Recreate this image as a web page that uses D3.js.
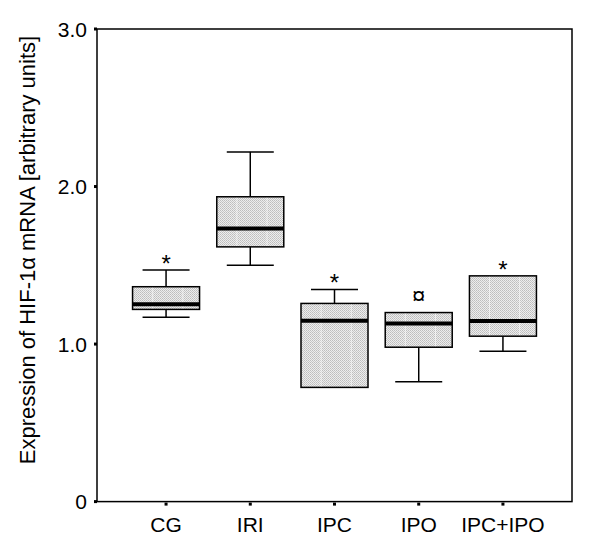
<!DOCTYPE html>
<html>
<head>
    <meta charset="utf-8">
    <style>
        body { margin: 0; background: #fff; }
        text { font-family: "Liberation Sans", Arial, sans-serif; fill: #000; }
        .frame { fill: none; stroke: #000; stroke-width: 1.5px; }
        .box { stroke: #000; stroke-width: 1.5px; }
        .whisker { stroke: #000; stroke-width: 1.5px; }
        .median { stroke: #000; stroke-width: 4px; }
    </style>
</head>
<body>
    <script src="https://d3js.org/d3.v7.min.js"></script>
    <script>
        var width = 600,
            height = 545;

        // groups and box statistics (arbitrary units)
        var groups = ["CG", "IRI", "IPC", "IPO", "IPC+IPO"];
        var lowerWhisker = [1.17, 1.50, 0.725, 0.76, 0.955];
        var q1 = [1.22, 1.617, 0.725, 0.98, 1.05];
        var median = [1.252, 1.734, 1.148, 1.13, 1.146];
        var q3 = [1.364, 1.935, 1.258, 1.20, 1.433];
        var upperWhisker = [1.47, 2.22, 1.347, 1.20, 1.433];
        var marks = ["*", "", "*", "\u00a4", "*"];

        var yTicks = [0, 1, 2, 3];
        var yTickLabels = ["0", "1.0", "2.0", "3.0"];

        var plotLeft = 97, plotRight = 572, plotTop = 29, plotBottom = 501.6;

        var x = d3.scalePoint()
            .domain(groups)
            .range([plotLeft, plotRight])
            .padding(0.82);

        var y = d3.scaleLinear()
            .domain([0, 3])
            .range([plotBottom, plotTop]);

        var svg = d3.select("body").append("svg")
            .attr("width", width)
            .attr("height", height);

        // stippled fill used by the boxes
        var defs = svg.append("defs");
        var pat = defs.append("pattern")
            .attr("id", "stipple")
            .attr("patternUnits", "userSpaceOnUse")
            .attr("width", 2)
            .attr("height", 2);
        pat.append("rect").attr("width", 2).attr("height", 2).attr("fill", "#ededed");
        pat.append("rect").attr("width", 1).attr("height", 1).attr("fill", "#bdbdbd");
        pat.append("rect").attr("x", 1).attr("y", 1).attr("width", 1).attr("height", 1).attr("fill", "#c8c8c8");

        var data = groups.map(function(g, i) {
            return {
                name: g,
                lo: lowerWhisker[i],
                q1: q1[i],
                med: median[i],
                q3: q3[i],
                hi: upperWhisker[i],
                mark: marks[i]
            };
        });

        var boxW = 67, capW = 47;

        var g = svg.append("g");

        var item = g.selectAll("g.item")
            .data(data)
            .enter().append("g")
            .attr("class", "item");

        // whiskers
        item.append("line")
            .attr("class", "whisker")
            .attr("x1", function(d) { return x(d.name); })
            .attr("x2", function(d) { return x(d.name); })
            .attr("y1", function(d) { return y(d.hi); })
            .attr("y2", function(d) { return y(d.lo); });

        item.filter(function(d) { return d.hi > d.q3; }).append("line")
            .attr("class", "whisker")
            .attr("x1", function(d) { return x(d.name) - capW / 2; })
            .attr("x2", function(d) { return x(d.name) + capW / 2; })
            .attr("y1", function(d) { return y(d.hi); })
            .attr("y2", function(d) { return y(d.hi); });

        item.filter(function(d) { return d.lo < d.q1; }).append("line")
            .attr("class", "whisker")
            .attr("x1", function(d) { return x(d.name) - capW / 2; })
            .attr("x2", function(d) { return x(d.name) + capW / 2; })
            .attr("y1", function(d) { return y(d.lo); })
            .attr("y2", function(d) { return y(d.lo); });

        // boxes
        item.append("rect")
            .attr("class", "box")
            .attr("fill", "url(#stipple)")
            .attr("x", function(d) { return x(d.name) - boxW / 2; })
            .attr("width", boxW)
            .attr("y", function(d) { return y(d.q3); })
            .attr("height", function(d) { return y(d.q1) - y(d.q3); });

        // faint white grid inside the boxes
        item.each(function(d) {
            var sel = d3.select(this);
            var x0 = x(d.name) - boxW / 2, y0 = y(d.q3), y1 = y(d.q1);
            [boxW * 0.3, boxW * 0.75].forEach(function(dx) {
                sel.append("line")
                    .attr("x1", x0 + dx).attr("x2", x0 + dx)
                    .attr("y1", y0 + 1).attr("y2", y1 - 1)
                    .attr("stroke", "#fff").attr("stroke-opacity", 0.6).attr("stroke-width", 1);
            });
        });

        // medians
        item.append("line")
            .attr("class", "median")
            .attr("x1", function(d) { return x(d.name) - boxW / 2; })
            .attr("x2", function(d) { return x(d.name) + boxW / 2; })
            .attr("y1", function(d) { return y(d.med); })
            .attr("y2", function(d) { return y(d.med); });

        // significance marks
        item.append("text")
            .attr("x", function(d) { return x(d.name); })
            .attr("y", function(d) { return y(d.hi) + 2; })
            .attr("text-anchor", "middle")
            .style("font-size", "24px")
            .text(function(d) { return d.mark; })
            .attr("dy", function(d) { return d.mark === "*" ? "0" : "-0.42em"; });

        // frame
        svg.append("rect")
            .attr("class", "frame")
            .attr("x", plotLeft)
            .attr("y", plotTop)
            .attr("width", plotRight - plotLeft)
            .attr("height", plotBottom - plotTop);

        // y axis ticks and labels
        var yAxis = svg.append("g");
        yAxis.selectAll("rect")
            .data(yTicks)
            .enter().append("rect")
            .attr("x", plotLeft - 3)
            .attr("y", function(d) { return y(d) - 1.5; })
            .attr("width", 3)
            .attr("height", 3)
            .attr("fill", "#000");
        yAxis.selectAll("text")
            .data(yTicks)
            .enter().append("text")
            .attr("x", 87)
            .attr("y", function(d) { return y(d); })
            .attr("dy", "0.36em")
            .attr("text-anchor", "end")
            .style("font-size", "21px")
            .text(function(d, i) { return yTickLabels[i]; });

        // x axis ticks and labels
        var xAxis = svg.append("g");
        xAxis.selectAll("rect")
            .data(groups)
            .enter().append("rect")
            .attr("x", function(d) { return x(d) - 1.5; })
            .attr("y", plotBottom + 1)
            .attr("width", 3)
            .attr("height", 3)
            .attr("fill", "#000");
        xAxis.selectAll("text")
            .data(groups)
            .enter().append("text")
            .attr("x", function(d) { return x(d); })
            .attr("y", 531.5)
            .attr("text-anchor", "middle")
            .style("font-size", "21px")
            .text(function(d) { return d; });

        // y axis title
        svg.append("text")
            .attr("transform", "translate(35," + 250 + ") rotate(-90)")
            .attr("text-anchor", "middle")
            .style("font-size", "22px")
            .text("Expression of HIF-1\u03b1 mRNA [arbitrary units]");
    </script>
</body>
</html>
